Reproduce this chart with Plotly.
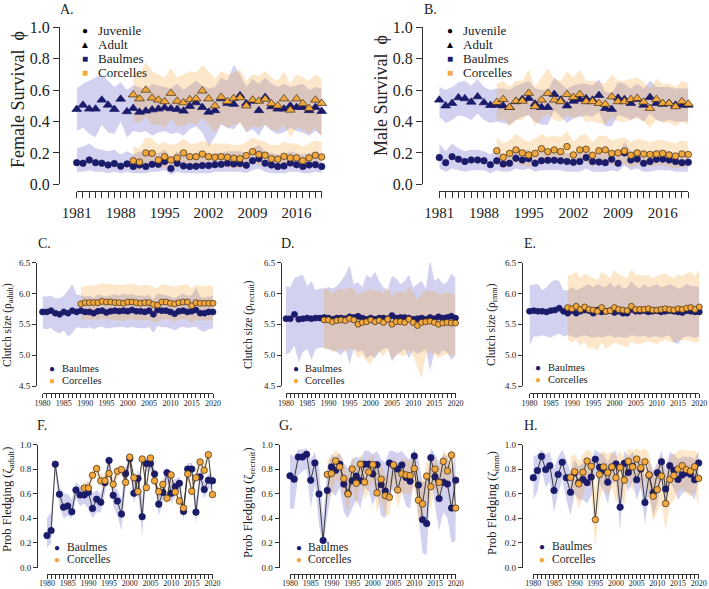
import plotly.graph_objects as go

W, H = 709, 589
FONT = "Liberation Serif"
NAVY = "#1b1b6b"
ORANGE = "#f3a83e"
NAVY_BAND = "rgba(95,95,200,0.28)"
ORANGE_BAND = "rgba(245,165,60,0.27)"
EDGE = "#3a2a14"

# ---------------- data ----------------
yrs_surv_b = list(range(1981, 2021))
yrs_surv_c = list(range(1990, 2021))
yrs_b = list(range(1980, 2021))
yrs_c = list(range(1989, 2021))

# Panel A  female survival
fA_ad_b = [0.478, 0.505, 0.48, 0.48, 0.537, 0.505, 0.478, 0.543, 0.463, 0.484,
           0.46, 0.467, 0.475, 0.48, 0.488, 0.482, 0.478, 0.467, 0.497, 0.52,
           0.49, 0.46, 0.47, 0.545, 0.515, 0.51, 0.565, 0.515, 0.53, 0.47,
           0.555, 0.495, 0.48, 0.48, 0.50, 0.49, 0.49, 0.47, 0.49, 0.465]
fA_ad_b_hi = [0.61, 0.64, 0.66, 0.68, 0.70, 0.66, 0.62, 0.65, 0.60, 0.63,
              0.62, 0.60, 0.64, 0.63, 0.62, 0.61, 0.64, 0.60, 0.63, 0.66,
              0.63, 0.61, 0.62, 0.68, 0.66, 0.76, 0.70, 0.62, 0.67, 0.64,
              0.68, 0.64, 0.62, 0.64, 0.62, 0.63, 0.64, 0.60, 0.62, 0.61]
fA_ad_b_lo = [0.34, 0.36, 0.32, 0.30, 0.38, 0.33, 0.32, 0.40, 0.30, 0.34,
              0.33, 0.34, 0.31, 0.33, 0.34, 0.32, 0.33, 0.31, 0.35, 0.37,
              0.33, 0.24, 0.30, 0.38, 0.36, 0.35, 0.40, 0.33, 0.35, 0.31,
              0.38, 0.34, 0.32, 0.33, 0.36, 0.34, 0.33, 0.31, 0.34, 0.31]
fA_ad_c = [0.57, 0.545, 0.60, 0.55, 0.537, 0.527, 0.58, 0.53, 0.52, 0.54,
           0.545, 0.595, 0.545, 0.50, 0.555, 0.527, 0.548, 0.552, 0.50, 0.537,
           0.53, 0.543, 0.514, 0.50, 0.545, 0.473, 0.545, 0.514, 0.484, 0.537, 0.516]
fA_ad_c_hi = [0.72, 0.70, 0.78, 0.72, 0.70, 0.68, 0.74, 0.68, 0.70, 0.72,
              0.71, 0.76, 0.72, 0.67, 0.72, 0.70, 0.71, 0.73, 0.66, 0.70,
              0.69, 0.72, 0.68, 0.66, 0.72, 0.64, 0.70, 0.68, 0.66, 0.70, 0.67]
fA_ad_c_lo = [0.40, 0.39, 0.43, 0.38, 0.38, 0.36, 0.42, 0.37, 0.37, 0.39,
              0.38, 0.42, 0.38, 0.33, 0.39, 0.36, 0.38, 0.39, 0.34, 0.37,
              0.36, 0.38, 0.35, 0.34, 0.38, 0.30, 0.36, 0.35, 0.32, 0.36, 0.30]
fA_ju_b = [0.138, 0.134, 0.155, 0.138, 0.134, 0.123, 0.132, 0.115, 0.13, 0.113,
           0.123, 0.113, 0.127, 0.127, 0.145, 0.10, 0.134, 0.117, 0.113, 0.115,
           0.119, 0.119, 0.125, 0.127, 0.134, 0.13, 0.132, 0.121, 0.15, 0.163,
           0.134, 0.123, 0.113, 0.117, 0.136, 0.125, 0.113, 0.123, 0.125, 0.113]
fA_ju_b_hi = [0.23, 0.24, 0.26, 0.23, 0.22, 0.21, 0.22, 0.19, 0.21, 0.19,
              0.21, 0.19, 0.20, 0.20, 0.22, 0.17, 0.21, 0.19, 0.19, 0.19,
              0.19, 0.19, 0.20, 0.20, 0.21, 0.21, 0.21, 0.20, 0.23, 0.25,
              0.21, 0.20, 0.19, 0.19, 0.21, 0.20, 0.19, 0.20, 0.20, 0.19]
fA_ju_b_lo = [0.08, 0.08, 0.09, 0.08, 0.08, 0.07, 0.08, 0.07, 0.08, 0.07,
              0.07, 0.07, 0.08, 0.08, 0.09, 0.06, 0.08, 0.07, 0.07, 0.07,
              0.07, 0.07, 0.08, 0.08, 0.08, 0.08, 0.08, 0.07, 0.09, 0.10,
              0.08, 0.07, 0.07, 0.07, 0.08, 0.08, 0.07, 0.07, 0.08, 0.07]
fA_ju_c = [0.15, 0.142, 0.20, 0.197, 0.155, 0.176, 0.155, 0.168, 0.20, 0.176,
           0.176, 0.193, 0.176, 0.172, 0.176, 0.172, 0.166, 0.163, 0.183, 0.208,
           0.19, 0.185, 0.163, 0.16, 0.178, 0.168, 0.168, 0.15, 0.168, 0.185, 0.174]
fA_ju_c_hi = [0.24, 0.23, 0.30, 0.29, 0.25, 0.27, 0.25, 0.26, 0.29, 0.26,
              0.26, 0.28, 0.26, 0.26, 0.26, 0.26, 0.25, 0.25, 0.27, 0.30,
              0.28, 0.27, 0.25, 0.25, 0.27, 0.26, 0.26, 0.24, 0.26, 0.28, 0.27]
fA_ju_c_lo = [0.09, 0.09, 0.13, 0.13, 0.10, 0.11, 0.10, 0.11, 0.13, 0.11,
              0.11, 0.12, 0.11, 0.11, 0.11, 0.11, 0.10, 0.10, 0.12, 0.14,
              0.12, 0.12, 0.10, 0.10, 0.11, 0.11, 0.11, 0.09, 0.11, 0.12, 0.11]

# Panel B  male survival
mB_ad_b = [0.537, 0.50, 0.516, 0.552, 0.546, 0.524, 0.558, 0.52, 0.503, 0.505,
           0.50, 0.49, 0.527, 0.541, 0.548, 0.512, 0.49, 0.49, 0.573, 0.537,
           0.50, 0.53, 0.541, 0.546, 0.537, 0.567, 0.484, 0.478, 0.55, 0.541,
           0.516, 0.541, 0.505, 0.554, 0.516, 0.51, 0.516, 0.505, 0.505, 0.505]
mB_ad_b_hi = [0.62, 0.60, 0.62, 0.65, 0.66, 0.63, 0.67, 0.62, 0.60, 0.61,
              0.61, 0.60, 0.63, 0.64, 0.66, 0.61, 0.60, 0.60, 0.68, 0.64,
              0.61, 0.63, 0.64, 0.64, 0.63, 0.67, 0.59, 0.58, 0.65, 0.64,
              0.61, 0.64, 0.61, 0.66, 0.62, 0.62, 0.62, 0.61, 0.61, 0.61]
mB_ad_b_lo = [0.43, 0.39, 0.41, 0.44, 0.43, 0.41, 0.45, 0.41, 0.39, 0.40,
              0.39, 0.38, 0.41, 0.43, 0.44, 0.40, 0.38, 0.38, 0.47, 0.43,
              0.39, 0.42, 0.43, 0.44, 0.43, 0.46, 0.37, 0.37, 0.44, 0.43,
              0.41, 0.43, 0.40, 0.45, 0.41, 0.40, 0.41, 0.40, 0.40, 0.40]
mB_ad_c = [0.522, 0.541, 0.49, 0.53, 0.53, 0.58, 0.495, 0.537, 0.58, 0.537,
           0.527, 0.573, 0.554, 0.573, 0.527, 0.527, 0.516, 0.51, 0.558, 0.527,
           0.527, 0.541, 0.548, 0.524, 0.484, 0.541, 0.516, 0.516, 0.495, 0.527, 0.512]
mB_ad_c_hi = [0.64, 0.66, 0.62, 0.66, 0.66, 0.73, 0.62, 0.68, 0.74, 0.67,
              0.66, 0.72, 0.68, 0.73, 0.66, 0.66, 0.65, 0.64, 0.70, 0.66,
              0.66, 0.67, 0.68, 0.65, 0.61, 0.67, 0.64, 0.64, 0.62, 0.66, 0.64]
mB_ad_c_lo = [0.40, 0.42, 0.37, 0.41, 0.41, 0.45, 0.37, 0.42, 0.45, 0.41,
              0.40, 0.44, 0.42, 0.44, 0.40, 0.40, 0.39, 0.38, 0.43, 0.40,
              0.40, 0.41, 0.42, 0.40, 0.36, 0.41, 0.39, 0.39, 0.37, 0.40, 0.38]
mB_ju_b = [0.17, 0.138, 0.176, 0.16, 0.145, 0.155, 0.155, 0.15, 0.125, 0.15,
           0.13, 0.134, 0.166, 0.155, 0.163, 0.134, 0.15, 0.153, 0.153, 0.15,
           0.145, 0.14, 0.145, 0.17, 0.145, 0.142, 0.138, 0.16, 0.134, 0.20,
           0.155, 0.161, 0.134, 0.145, 0.16, 0.16, 0.155, 0.145, 0.138, 0.14]
mB_ju_b_hi = [0.26, 0.21, 0.26, 0.23, 0.21, 0.22, 0.22, 0.21, 0.19, 0.22,
              0.19, 0.19, 0.23, 0.22, 0.22, 0.19, 0.21, 0.21, 0.21, 0.21,
              0.20, 0.20, 0.20, 0.23, 0.20, 0.20, 0.19, 0.22, 0.19, 0.27,
              0.21, 0.22, 0.19, 0.20, 0.22, 0.22, 0.21, 0.20, 0.19, 0.19]
mB_ju_b_lo = [0.10, 0.08, 0.10, 0.09, 0.08, 0.09, 0.09, 0.09, 0.07, 0.09,
              0.08, 0.08, 0.10, 0.09, 0.10, 0.08, 0.09, 0.09, 0.09, 0.09,
              0.08, 0.08, 0.08, 0.10, 0.08, 0.08, 0.08, 0.09, 0.08, 0.12,
              0.09, 0.10, 0.08, 0.08, 0.09, 0.09, 0.09, 0.08, 0.08, 0.08]
mB_ju_c = [0.214, 0.172, 0.197, 0.219, 0.20, 0.187, 0.197, 0.227, 0.208, 0.219,
           0.208, 0.24, 0.187, 0.219, 0.223, 0.185, 0.214, 0.219, 0.197, 0.20,
           0.212, 0.185, 0.20, 0.193, 0.19, 0.193, 0.197, 0.187, 0.18, 0.193, 0.19]
mB_ju_c_hi = [0.30, 0.26, 0.28, 0.32, 0.29, 0.27, 0.29, 0.32, 0.30, 0.31,
              0.30, 0.34, 0.27, 0.31, 0.32, 0.27, 0.31, 0.31, 0.28, 0.29,
              0.30, 0.27, 0.29, 0.28, 0.27, 0.28, 0.28, 0.27, 0.26, 0.28, 0.27]
mB_ju_c_lo = [0.13, 0.10, 0.12, 0.14, 0.12, 0.11, 0.12, 0.14, 0.13, 0.14,
              0.13, 0.15, 0.11, 0.14, 0.14, 0.11, 0.13, 0.14, 0.12, 0.12,
              0.13, 0.11, 0.12, 0.12, 0.11, 0.12, 0.12, 0.11, 0.10, 0.11, 0.11]

# Panel C  clutch size adult
cC_b = [5.70, 5.70, 5.72, 5.68, 5.66, 5.70, 5.68, 5.72, 5.70, 5.72,
        5.70, 5.70, 5.68, 5.71, 5.72, 5.69, 5.71, 5.72, 5.71, 5.72,
        5.71, 5.73, 5.71, 5.71, 5.70, 5.72, 5.66, 5.73, 5.72, 5.72,
        5.70, 5.67, 5.71, 5.72, 5.70, 5.71, 5.73, 5.68, 5.68, 5.70, 5.70]
cC_b_hi = [5.95, 5.95, 5.96, 5.92, 5.92, 5.96, 6.05, 6.15, 5.98, 5.97,
           5.95, 5.96, 5.93, 5.98, 5.96, 5.95, 5.97, 5.98, 5.96, 6.00,
           5.97, 5.99, 5.96, 5.97, 5.95, 5.98, 5.90, 6.00, 5.98, 5.97,
           5.95, 5.92, 5.96, 6.00, 5.96, 5.97, 6.10, 5.95, 5.93, 5.95, 5.96]
cC_b_lo = [5.43, 5.42, 5.44, 5.38, 5.35, 5.40, 5.30, 5.36, 5.45, 5.44,
           5.43, 5.45, 5.42, 5.45, 5.46, 5.43, 5.44, 5.45, 5.45, 5.46,
           5.44, 5.46, 5.44, 5.44, 5.43, 5.46, 5.36, 5.47, 5.45, 5.45,
           5.43, 5.40, 5.44, 5.46, 5.44, 5.45, 5.46, 5.40, 5.38, 5.42, 5.43]
cC_c = [5.83, 5.85, 5.85, 5.85, 5.85, 5.87, 5.86, 5.86, 5.85, 5.85,
        5.84, 5.86, 5.86, 5.85, 5.84, 5.85, 5.85, 5.82, 5.81, 5.86,
        5.86, 5.84, 5.83, 5.85, 5.86, 5.86, 5.80, 5.85, 5.84, 5.84, 5.84, 5.84]
cC_c_hi = [6.10, 6.12, 6.13, 6.12, 6.14, 6.16, 6.15, 6.15, 6.14, 6.14,
           6.13, 6.15, 6.15, 6.14, 6.12, 6.14, 6.14, 6.10, 6.08, 6.15,
           6.14, 6.12, 6.11, 6.13, 6.14, 6.15, 6.08, 6.14, 6.12, 6.12, 6.13, 6.12]
cC_c_lo = [5.56, 5.58, 5.57, 5.58, 5.57, 5.59, 5.58, 5.58, 5.57, 5.56,
           5.55, 5.58, 5.58, 5.57, 5.56, 5.57, 5.57, 5.54, 5.53, 5.58,
           5.58, 5.56, 5.55, 5.57, 5.58, 5.58, 5.52, 5.57, 5.56, 5.56, 5.56, 5.56]

# Panel D  clutch size recruit
cD_b = [5.59, 5.59, 5.66, 5.58, 5.59, 5.60, 5.59, 5.60, 5.60, 5.61,
        5.60, 5.58, 5.60, 5.60, 5.59, 5.62, 5.61, 5.63, 5.60, 5.58,
        5.60, 5.58, 5.60, 5.60, 5.59, 5.64, 5.60, 5.61, 5.61, 5.60,
        5.58, 5.59, 5.60, 5.58, 5.61, 5.59, 5.62, 5.60, 5.61, 5.63, 5.60]
cD_b_hi = [6.12, 6.10, 6.25, 6.28, 6.30, 6.12, 6.20, 6.05, 6.08, 6.08,
           6.10, 6.08, 6.12, 6.20, 6.30, 6.45, 6.15, 6.18, 6.10, 6.30,
           6.25, 6.35, 6.20, 6.10, 6.05, 6.28, 6.25, 6.15, 6.20, 6.30,
           6.10, 6.15, 6.20, 6.08, 6.56, 6.20, 6.25, 6.15, 6.18, 6.32, 6.25]
cD_b_lo = [5.00, 5.05, 5.15, 4.88, 5.05, 5.10, 4.92, 5.10, 5.12, 5.12,
           5.10, 5.08, 5.05, 5.00, 5.10, 4.85, 5.10, 5.05, 5.08, 4.95,
           5.00, 4.95, 5.05, 5.10, 5.12, 4.90, 5.00, 5.05, 5.10, 4.95,
           5.08, 5.02, 5.05, 5.10, 4.75, 5.05, 5.00, 5.08, 5.05, 4.92, 5.00]
cD_c = [5.57, 5.57, 5.54, 5.56, 5.57, 5.56, 5.59, 5.57, 5.50, 5.53,
        5.54, 5.57, 5.54, 5.56, 5.53, 5.58, 5.50, 5.54, 5.54, 5.53,
        5.58, 5.53, 5.48, 5.53, 5.54, 5.55, 5.53, 5.50, 5.52, 5.53, 5.52, 5.52]
cD_c_hi = [6.08, 6.06, 6.00, 6.05, 6.08, 6.05, 6.10, 6.08, 5.98, 6.02,
           6.03, 6.08, 6.03, 6.05, 6.00, 6.10, 5.95, 6.02, 6.03, 6.00,
           6.10, 6.02, 5.90, 6.00, 6.04, 6.05, 6.03, 5.98, 6.00, 6.02, 6.00, 6.00]
cD_c_lo = [5.08, 5.10, 5.05, 5.08, 5.10, 5.05, 5.12, 5.08, 4.95, 5.00,
           4.90, 4.85, 5.02, 5.05, 4.98, 5.10, 4.92, 5.02, 5.00, 4.98,
           5.08, 5.00, 4.80, 4.62, 5.02, 5.05, 5.00, 4.95, 5.00, 5.02, 5.00, 5.00]

# Panel E  clutch size immigrant
cE_b = [5.71, 5.72, 5.71, 5.71, 5.70, 5.72, 5.73, 5.76, 5.71, 5.68,
        5.72, 5.68, 5.71, 5.73, 5.72, 5.68, 5.73, 5.70, 5.71, 5.72,
        5.69, 5.71, 5.68, 5.68, 5.74, 5.71, 5.71, 5.72, 5.70, 5.71,
        5.72, 5.70, 5.71, 5.72, 5.71, 5.70, 5.69, 5.72, 5.71, 5.70, 5.70]
cE_b_hi = [6.13, 6.14, 6.15, 6.05, 6.10, 6.18, 6.22, 6.20, 6.05, 6.05,
           6.10, 6.05, 6.08, 6.12, 6.15, 6.10, 6.15, 6.12, 6.10, 6.18,
           6.10, 6.15, 6.08, 6.10, 6.20, 6.12, 6.08, 6.15, 6.10, 6.12,
           6.15, 6.10, 6.12, 6.15, 6.12, 6.08, 6.10, 6.15, 6.12, 6.12, 6.10]
cE_b_lo = [5.15, 5.30, 5.30, 5.32, 5.30, 5.28, 5.32, 5.35, 5.30, 5.32,
           5.30, 5.28, 5.30, 5.32, 5.30, 5.28, 5.30, 5.28, 5.30, 5.32,
           5.28, 5.30, 5.28, 5.28, 5.32, 5.30, 5.30, 5.32, 5.28, 5.30,
           5.30, 5.28, 5.30, 5.32, 5.20, 5.18, 5.28, 5.30, 5.30, 5.28, 5.30]
cE_c = [5.77, 5.75, 5.79, 5.74, 5.78, 5.74, 5.73, 5.71, 5.77, 5.71,
        5.72, 5.77, 5.74, 5.73, 5.72, 5.79, 5.74, 5.74, 5.74, 5.75,
        5.73, 5.73, 5.74, 5.75, 5.74, 5.73, 5.75, 5.74, 5.76, 5.77, 5.74, 5.78]
cE_c_hi = [6.28, 6.30, 6.35, 6.25, 6.32, 6.28, 6.25, 6.22, 6.35, 6.30,
           6.25, 6.38, 6.30, 6.28, 6.25, 6.40, 6.30, 6.30, 6.28, 6.30,
           6.25, 6.28, 6.30, 6.32, 6.28, 6.25, 6.30, 6.28, 6.32, 6.35, 6.28, 6.40]
cE_c_lo = [5.25, 5.20, 5.25, 5.15, 5.22, 5.10, 5.12, 5.08, 5.20, 5.10,
           5.15, 5.20, 5.18, 5.15, 5.12, 5.22, 5.18, 5.18, 5.20, 5.22,
           5.20, 5.18, 5.22, 5.25, 5.22, 5.20, 5.25, 5.24, 5.25, 5.22, 5.20, 5.22]

# Panel F  fledging adult
pF_b = [0.26, 0.30, 0.84, 0.595, 0.49, 0.50, 0.453, 0.63, 0.59, 0.59,
        0.61, 0.48, 0.555, 0.53, 0.69, 0.87, 0.587, 0.54, 0.434, 0.764,
        0.885, 0.603, 0.724, 0.413, 0.845, 0.845, 0.76, 0.515, 0.61, 0.77,
        0.603, 0.657, 0.684, 0.456, 0.80, 0.80, 0.45, 0.737, 0.635, 0.71, 0.705]
pF_b_hi = [0.40, 0.45, 0.88, 0.66, 0.60, 0.60, 0.55, 0.70, 0.66, 0.67,
           0.70, 0.60, 0.63, 0.60, 0.75, 0.92, 0.66, 0.63, 0.56, 0.80,
           0.93, 0.68, 0.80, 0.55, 0.90, 0.90, 0.82, 0.60, 0.70, 0.82,
           0.70, 0.72, 0.74, 0.52, 0.85, 0.85, 0.55, 0.80, 0.70, 0.76, 0.76]
pF_b_lo = [0.16, 0.20, 0.78, 0.50, 0.40, 0.42, 0.40, 0.56, 0.50, 0.52,
           0.48, 0.40, 0.45, 0.45, 0.60, 0.82, 0.50, 0.42, 0.30, 0.65,
           0.82, 0.52, 0.62, 0.25, 0.78, 0.78, 0.68, 0.42, 0.52, 0.70,
           0.52, 0.58, 0.62, 0.38, 0.74, 0.74, 0.35, 0.67, 0.56, 0.64, 0.64]
pF_c = [0.646, 0.646, 0.75, 0.804, 0.705, 0.705, 0.764, 0.676, 0.783, 0.796,
        0.692, 0.898, 0.73, 0.617, 0.882, 0.649, 0.89, 0.705, 0.617, 0.676,
        0.563, 0.753, 0.614, 0.54, 0.483, 0.761, 0.62, 0.73, 0.858, 0.79, 0.917, 0.593]
pF_c_hi = [0.70, 0.70, 0.80, 0.85, 0.76, 0.76, 0.81, 0.73, 0.83, 0.84,
           0.75, 0.93, 0.78, 0.68, 0.92, 0.71, 0.92, 0.76, 0.67, 0.72,
           0.62, 0.80, 0.67, 0.60, 0.54, 0.81, 0.68, 0.79, 0.90, 0.84, 0.95, 0.65]
pF_c_lo = [0.59, 0.59, 0.70, 0.75, 0.65, 0.65, 0.71, 0.62, 0.73, 0.75,
           0.63, 0.86, 0.68, 0.55, 0.84, 0.59, 0.85, 0.65, 0.56, 0.62,
           0.50, 0.70, 0.56, 0.48, 0.42, 0.71, 0.56, 0.68, 0.81, 0.74, 0.88, 0.54]

# Panel G  fledging recruit
pG_b = [0.745, 0.718, 0.898, 0.898, 0.92, 0.71, 0.85, 0.598, 0.22, 0.627,
        0.818, 0.79, 0.84, 0.678, 0.603, 0.705, 0.743, 0.705, 0.84, 0.84,
        0.76, 0.836, 0.673, 0.622, 0.85, 0.83, 0.80, 0.834, 0.732, 0.702,
        0.906, 0.67, 0.389, 0.357, 0.893, 0.737, 0.56, 0.694, 0.678, 0.483, 0.71]
pG_b_hi = [0.92, 0.90, 0.96, 0.96, 0.97, 0.88, 0.94, 0.82, 0.40, 0.80,
           0.92, 0.90, 0.93, 0.85, 0.80, 0.88, 0.90, 0.88, 0.95, 0.95,
           0.92, 0.95, 0.88, 0.85, 0.95, 0.95, 0.93, 0.95, 0.90, 0.88,
           0.97, 0.88, 0.70, 0.70, 0.97, 0.92, 0.85, 0.92, 0.90, 0.80, 0.92]
pG_b_lo = [0.48, 0.48, 0.75, 0.78, 0.80, 0.48, 0.68, 0.35, 0.15, 0.42,
           0.62, 0.58, 0.65, 0.45, 0.40, 0.48, 0.55, 0.48, 0.65, 0.62,
           0.50, 0.62, 0.42, 0.40, 0.65, 0.62, 0.60, 0.62, 0.50, 0.48,
           0.75, 0.42, 0.12, 0.10, 0.75, 0.50, 0.30, 0.45, 0.40, 0.20, 0.22]
pG_c = [0.756, 0.764, 0.866, 0.818, 0.724, 0.598, 0.80, 0.684, 0.84, 0.694,
        0.777, 0.836, 0.606, 0.718, 0.584, 0.571, 0.834, 0.63, 0.761, 0.753,
        0.748, 0.804, 0.547, 0.517, 0.743, 0.657, 0.80, 0.692, 0.863, 0.785, 0.914, 0.483]
pG_c_hi = [0.88, 0.90, 0.96, 0.92, 0.85, 0.75, 0.90, 0.82, 0.92, 0.85,
           0.88, 0.92, 0.78, 0.85, 0.75, 0.72, 0.92, 0.78, 0.88, 0.88,
           0.86, 0.92, 0.72, 0.70, 0.88, 0.80, 0.90, 0.82, 0.95, 0.92, 0.97, 0.65]
pG_c_lo = [0.58, 0.58, 0.72, 0.68, 0.58, 0.45, 0.65, 0.50, 0.70, 0.55,
           0.62, 0.70, 0.45, 0.55, 0.42, 0.42, 0.72, 0.48, 0.60, 0.60,
           0.60, 0.65, 0.38, 0.35, 0.58, 0.48, 0.65, 0.55, 0.72, 0.62, 0.80, 0.32]

# Panel H  fledging immigrant
pH_b = [0.73, 0.788, 0.903, 0.796, 0.828, 0.627, 0.756, 0.855, 0.73, 0.611,
        0.77, 0.69, 0.716, 0.69, 0.735, 0.88, 0.815, 0.788, 0.694, 0.815,
        0.842, 0.49, 0.847, 0.772, 0.823, 0.713, 0.80, 0.528, 0.75, 0.608,
        0.77, 0.86, 0.638, 0.828, 0.79, 0.716, 0.753, 0.77, 0.759, 0.713, 0.85]
pH_b_hi = [0.90, 0.92, 0.96, 0.92, 0.94, 0.80, 0.90, 0.96, 0.88, 0.78,
           0.88, 0.82, 0.85, 0.84, 0.88, 0.96, 0.93, 0.92, 0.85, 0.93,
           0.95, 0.70, 0.95, 0.90, 0.94, 0.88, 0.90, 0.72, 0.88, 0.78,
           0.85, 0.95, 0.80, 0.94, 0.92, 0.88, 0.90, 0.90, 0.90, 0.88, 0.95]
pH_b_lo = [0.55, 0.62, 0.80, 0.65, 0.70, 0.45, 0.60, 0.72, 0.55, 0.42,
           0.60, 0.55, 0.55, 0.52, 0.58, 0.76, 0.68, 0.62, 0.52, 0.68,
           0.70, 0.30, 0.72, 0.62, 0.70, 0.55, 0.65, 0.35, 0.60, 0.42,
           0.52, 0.74, 0.48, 0.70, 0.64, 0.55, 0.60, 0.62, 0.60, 0.55, 0.72]
pH_c = [0.732, 0.778, 0.68, 0.775, 0.866, 0.823, 0.389, 0.756, 0.818, 0.772,
        0.818, 0.73, 0.812, 0.71, 0.863, 0.818, 0.882, 0.81, 0.86, 0.753,
        0.579, 0.633, 0.743, 0.52, 0.716, 0.748, 0.80, 0.828, 0.796, 0.783, 0.82, 0.724]
pH_c_hi = [0.90, 0.92, 0.86, 0.92, 0.96, 0.95, 0.62, 0.92, 0.95, 0.92,
           0.95, 0.90, 0.95, 0.88, 0.97, 0.95, 0.97, 0.95, 0.97, 0.92,
           0.78, 0.82, 0.92, 0.75, 0.90, 0.92, 0.95, 0.96, 0.95, 0.95, 0.95, 0.92]
pH_c_lo = [0.55, 0.60, 0.48, 0.58, 0.72, 0.65, 0.15, 0.55, 0.65, 0.58,
           0.65, 0.52, 0.62, 0.50, 0.72, 0.62, 0.75, 0.62, 0.72, 0.55,
           0.38, 0.45, 0.52, 0.30, 0.50, 0.55, 0.62, 0.65, 0.60, 0.58, 0.62, 0.50]

surv_ticks = [0.0, 0.2, 0.4, 0.6, 0.8, 1.0]
clutch_ticks = [4.5, 5.0, 5.5, 6.0, 6.5]
surv_xlabels = [1981, 1988, 1995, 2002, 2009, 2016]
five_xlabels = [1980, 1985, 1990, 1995, 2000, 2005, 2010, 2015, 2020]

# ---------------- layout helpers ----------------
def fx(p):
    return p / W

def fy(p):
    return 1 - p / H

fig = go.Figure()
layout = {}
annotations = []

panels = [
    dict(n=1, xpx=(76.7, 321.7), ypx=(27.3, 184.3), xline=191, yline=59,
         xr=(1981, 2020), yr=(0, 1), yt=surv_ticks, xlab=surv_xlabels, xall=yrs_surv_b,
         xfs=15, yfs=16, tl=6, so=2),
    dict(n=2, xpx=(439.3, 688.3), ypx=(27.3, 184.3), xline=191, yline=422,
         xr=(1981, 2020), yr=(0, 1), yt=surv_ticks, xlab=surv_xlabels, xall=yrs_surv_b,
         xfs=15, yfs=16, tl=6, so=2),
    dict(n=3, xpx=(42.5, 213), ypx=(262.5, 386), xline=392.5, yline=36,
         xr=(1980, 2020), yr=(4.5, 6.5), yt=clutch_ticks, xlab=five_xlabels, xall=yrs_b,
         xfs=8, yfs=9, tl=4, so=-1),
    dict(n=4, xpx=(286, 455.5), ypx=(262.5, 386), xline=392.5, yline=281,
         xr=(1980, 2020), yr=(4.5, 6.5), yt=clutch_ticks, xlab=five_xlabels, xall=yrs_b,
         xfs=8, yfs=9, tl=4, so=-1),
    dict(n=5, xpx=(529.5, 699.3), ypx=(262.5, 386), xline=392.5, yline=522,
         xr=(1980, 2020), yr=(4.5, 6.5), yt=clutch_ticks, xlab=five_xlabels, xall=yrs_b,
         xfs=8, yfs=9, tl=4, so=-1),
    dict(n=6, xpx=(47, 212.5), ypx=(444.5, 567.5), xline=573.5, yline=37,
         xr=(1980, 2020), yr=(0, 1), yt=surv_ticks, xlab=five_xlabels, xall=yrs_b,
         xfs=8, yfs=9, tl=4, so=-2),
    dict(n=7, xpx=(290, 455.7), ypx=(444.5, 567.5), xline=573.5, yline=278.5,
         xr=(1980, 2020), yr=(0, 1), yt=surv_ticks, xlab=five_xlabels, xall=yrs_b,
         xfs=8, yfs=9, tl=4, so=-2),
    dict(n=8, xpx=(533.3, 698.7), ypx=(444.5, 567.5), xline=573.5, yline=521.7,
         xr=(1980, 2020), yr=(0, 1), yt=surv_ticks, xlab=five_xlabels, xall=yrs_b,
         xfs=8, yfs=9, tl=4, so=-2),
]

for p in panels:
    n = p["n"]
    xa = "xaxis" if n == 1 else f"xaxis{n}"
    ya = "yaxis" if n == 1 else f"yaxis{n}"
    ticktext = [str(v) if v in p["xlab"] else "" for v in p["xall"]]
    layout[xa] = dict(
        domain=[fx(p["xpx"][0]), fx(p["xpx"][1])], range=list(p["xr"]),
        anchor="free", position=fy(p["xline"]), showline=True, linecolor="#333",
        linewidth=1, ticks="outside", ticklen=p["tl"], tickwidth=1, tickcolor="#333",
        tickmode="array", tickvals=p["xall"], ticktext=ticktext, tickangle=0,
        ticklabelstandoff=p["so"],
        showgrid=False, zeroline=False, automargin=False,
        tickfont=dict(family=FONT, size=p["xfs"], color="#222"),
    )
    layout[ya] = dict(
        domain=[fy(p["ypx"][1]), fy(p["ypx"][0])], range=list(p["yr"]),
        anchor="free", position=fx(p["yline"]), showline=True, linecolor="#333",
        linewidth=1, ticks="outside", ticklen=p["tl"], tickwidth=1, tickcolor="#333",
        tickmode="array", tickvals=p["yt"], tickformat=".1f", showgrid=False,
        zeroline=False, automargin=False,
        tickfont=dict(family=FONT, size=p["yfs"], color="#222"),
    )


def axes(n):
    return ("x" if n == 1 else f"x{n}", "y" if n == 1 else f"y{n}")


def band(n, xs, lo, hi, color):
    xa, ya = axes(n)
    fig.add_trace(go.Scatter(x=list(xs) + list(xs)[::-1], y=list(hi) + list(lo)[::-1],
                             fill="toself", fillcolor=color, line=dict(width=0),
                             mode="none", hoverinfo="skip", xaxis=xa, yaxis=ya,
                             showlegend=False))


def pts(n, xs, ys, color, symbol="circle", size=7, edge=None, line=False):
    xa, ya = axes(n)
    fig.add_trace(go.Scatter(
        x=list(xs), y=list(ys), mode="lines+markers" if line else "markers",
        line=dict(color="#2a2a2a", width=0.9),
        marker=dict(symbol=symbol, size=size, color=color,
                    line=dict(color=edge if edge else color, width=0.7)),
        cliponaxis=False, xaxis=xa, yaxis=ya, showlegend=False))


for n, ad_b, adbl, adbh, ad_c, adcl, adch, ju_b, jubl, jubh, ju_c, jucl, juch in [
    (1, fA_ad_b, fA_ad_b_lo, fA_ad_b_hi, fA_ad_c, fA_ad_c_lo, fA_ad_c_hi,
     fA_ju_b, fA_ju_b_lo, fA_ju_b_hi, fA_ju_c, fA_ju_c_lo, fA_ju_c_hi),
    (2, mB_ad_b, mB_ad_b_lo, mB_ad_b_hi, mB_ad_c, mB_ad_c_lo, mB_ad_c_hi,
     mB_ju_b, mB_ju_b_lo, mB_ju_b_hi, mB_ju_c, mB_ju_c_lo, mB_ju_c_hi),
]:
    band(n, yrs_surv_b, adbl, adbh, NAVY_BAND)
    band(n, yrs_surv_b, jubl, jubh, NAVY_BAND)
    band(n, yrs_surv_c, adcl, adch, ORANGE_BAND)
    band(n, yrs_surv_c, jucl, juch, ORANGE_BAND)
    pts(n, yrs_surv_b, ad_b, NAVY, "triangle-up", 8.5)
    pts(n, yrs_surv_b, ju_b, NAVY, "circle", 6.5)
    pts(n, yrs_surv_c, ad_c, ORANGE, "triangle-up", 8.5, EDGE)
    pts(n, yrs_surv_c, ju_c, ORANGE, "circle", 6.5, EDGE)

for n, vb, vbl, vbh, vc, vcl, vch, ln, ms in [
    (3, cC_b, cC_b_lo, cC_b_hi, cC_c, cC_c_lo, cC_c_hi, False, 6),
    (4, cD_b, cD_b_lo, cD_b_hi, cD_c, cD_c_lo, cD_c_hi, False, 6),
    (5, cE_b, cE_b_lo, cE_b_hi, cE_c, cE_c_lo, cE_c_hi, False, 6),
    (6, pF_b, pF_b_lo, pF_b_hi, pF_c, pF_c_lo, pF_c_hi, True, 6.5),
    (7, pG_b, pG_b_lo, pG_b_hi, pG_c, pG_c_lo, pG_c_hi, True, 6.5),
    (8, pH_b, pH_b_lo, pH_b_hi, pH_c, pH_c_lo, pH_c_hi, True, 6.5),
]:
    band(n, yrs_b, vbl, vbh, NAVY_BAND)
    band(n, yrs_c, vcl, vch, ORANGE_BAND)
    pts(n, yrs_b, vb, NAVY, "circle", ms, None, ln)
    pts(n, yrs_c, vc, ORANGE, "circle", ms, EDGE, ln)


def txt(x, y, s, size, color="#222", xanchor="left", angle=0):
    annotations.append(dict(x=fx(x), y=fy(y), xref="paper", yref="paper", text=s,
                            showarrow=False, xanchor=xanchor, yanchor="middle",
                            textangle=angle, borderpad=0,
                            font=dict(family=FONT, size=size, color=color)))


for lab, x, y in [("A.", 59, 9), ("B.", 423, 9), ("C.", 37, 243), ("D.", 280, 243),
                  ("E.", 523, 243), ("F.", 36, 425), ("G.", 278, 425), ("H.", 523, 425)]:
    txt(x, y, lab, 14)

txt(18, 100, "Female Survival  ϕ", 18, xanchor="center", angle=-90)
txt(381, 96, "Male Survival  ϕ", 18, xanchor="center", angle=-90)
txt(8, 325, "Clutch size (ρ<sub>adult</sub>)", 11.5, xanchor="center", angle=-90)
txt(249, 325, "Clutch size (ρ<sub>recruit</sub>)", 11.5, xanchor="center", angle=-90)
txt(492, 325, "Clutch size (ρ<sub>imm</sub>)", 11.5, xanchor="center", angle=-90)
txt(8, 500, "Prob Fledging (ζ<sub>adult</sub>)", 12.5, xanchor="center", angle=-90)
txt(249, 503, "Prob Fledging (ζ<sub>recruit</sub>)", 12.5, xanchor="center", angle=-90)
txt(493, 503, "Prob Fledging (ζ<sub>imm</sub>)", 12.5, xanchor="center", angle=-90)

for sx in (85, 450):
    txt(sx, 30, "●", 10, "#000", "center")
    txt(sx, 44, "▲", 10, "#000", "center")
    txt(sx, 58.5, "■", 10, NAVY, "center")
    txt(sx, 73, "■", 10, ORANGE, "center")
    txt(sx + 12, 30, "Juvenile", 13)
    txt(sx + 12, 44, "Adult", 13)
    txt(sx + 12, 58.5, "Baulmes", 13)
    txt(sx + 12, 73, "Corcelles", 13)

for dx, tx, y1, y2, fs in [(52, 61, 368, 380, 10.5), (295.5, 303.5, 368, 380, 10.5),
                           (538, 547, 367, 379, 10.5), (57, 65.5, 547, 559, 11.5),
                           (299, 307, 547, 559, 11.5), (541.5, 551, 546, 559, 11.5)]:
    txt(dx, y1, "●", 10, NAVY, "center")
    txt(dx, y2, "●", 10, ORANGE, "center")
    txt(tx, y1, "Baulmes", fs)
    txt(tx, y2, "Corcelles", fs)

fig.update_layout(
    template="none",
    width=W, height=H, margin=dict(l=0, r=0, t=0, b=0, autoexpand=False),
    paper_bgcolor="white", plot_bgcolor="white", showlegend=False,
    annotations=annotations, **layout)

fig.write_html("out.html")
